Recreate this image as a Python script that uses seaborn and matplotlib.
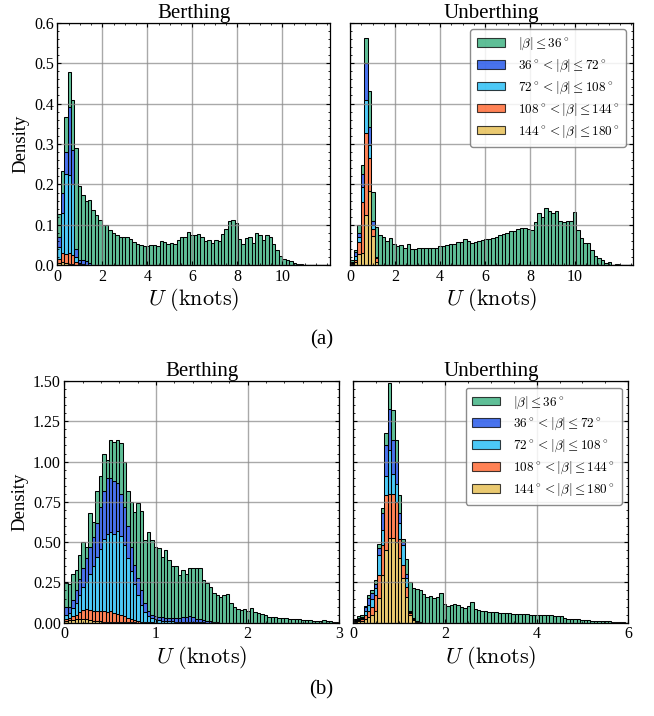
import numpy as np
import pandas as pd
import matplotlib
matplotlib.use("Agg")
import matplotlib.pyplot as plt
import seaborn as sns
from matplotlib.patches import Patch
from matplotlib.ticker import AutoMinorLocator

plt.rcParams.update({
    "font.family": "serif",
    "font.serif": ["Liberation Serif", "DejaVu Serif"],
    "mathtext.fontset": "cm",
    "xtick.direction": "in", "ytick.direction": "in",
    "xtick.top": True, "ytick.right": True,
    "xtick.major.size": 3.0, "ytick.major.size": 3.0,
    "xtick.minor.size": 1.5, "ytick.minor.size": 1.5,
    "xtick.minor.visible": True, "ytick.minor.visible": True,
    "axes.linewidth": 0.9,
})

N_BINS = 80
beta_labels = [r"$|\beta| \leq 36^\circ$",
               r"$36^\circ < |\beta| \leq 72^\circ$",
               r"$72^\circ < |\beta| \leq 108^\circ$",
               r"$108^\circ < |\beta| \leq 144^\circ$",
               r"$144^\circ < |\beta| \leq 180^\circ$"]
beta_colors = ["#2AAA75", "#0C44E8", "#10B8F5", "#FF581C", "#E4B740"]

# ---- (a) Berthing : densities per bin (80 bins over 0..u_max) ----
a_berth_umax = 12.12
a_berth_g = [0.058, 0.054, 0.087, 0.087, 0.125, 0.250, 0.184, 0.162, 0.147, 0.155,
             0.138, 0.124, 0.112, 0.100, 0.099, 0.087, 0.079, 0.075, 0.069, 0.069,
             0.071, 0.066, 0.057, 0.053, 0.050, 0.047, 0.048, 0.050, 0.049, 0.048,
             0.061, 0.058, 0.053, 0.055, 0.052, 0.063, 0.070, 0.070, 0.083, 0.076,
             0.076, 0.078, 0.069, 0.060, 0.062, 0.055, 0.063, 0.061, 0.078, 0.089,
             0.110, 0.111, 0.104, 0.065, 0.052, 0.067, 0.069, 0.055, 0.080, 0.075,
             0.063, 0.076, 0.070, 0.053, 0.039, 0.024, 0.016, 0.013, 0.010, 0.006,
             0.003, 0.002, 0.001]
a_berth_b = [0.025, 0.050, 0.055, 0.169, 0.085, 0.020, 0.007, 0.009, 0.011, 0.006]
a_berth_c = [0.029, 0.100, 0.196, 0.193, 0.175, 0.011, 0.004, 0.003]
a_berth_o = [0.010, 0.022, 0.024, 0.026, 0.022, 0.008, 0.002]
a_berth_y = [0.006, 0.008, 0.005, 0.004, 0.003, 0.001]

# ---- (a) Unberthing ----
a_unberth_umax = 12.56
a_unberth_g = [0.003, 0.007, 0.020, 0.021, 0.062, 0.087, 0.072, 0.075, 0.076, 0.071,
               0.060, 0.067, 0.052, 0.047, 0.051, 0.043, 0.053, 0.041, 0.041, 0.042,
               0.042, 0.043, 0.043, 0.044, 0.044, 0.047, 0.048, 0.051, 0.052, 0.053,
               0.057, 0.058, 0.065, 0.059, 0.056, 0.057, 0.061, 0.063, 0.065, 0.066,
               0.068, 0.071, 0.074, 0.077, 0.081, 0.085, 0.085, 0.091, 0.092, 0.092,
               0.091, 0.088, 0.107, 0.130, 0.120, 0.142, 0.134, 0.130, 0.135, 0.110,
               0.106, 0.109, 0.110, 0.133, 0.088, 0.067, 0.055, 0.055, 0.039, 0.024,
               0.018, 0.012, 0.006, 0.007, 0.000, 0.002]
a_unberth_b = [0.003, 0.008, 0.008, 0.033, 0.090, 0.045, 0.010, 0.001]
a_unberth_c = [0.002, 0.011, 0.013, 0.037, 0.083, 0.033, 0.010, 0.002]
a_unberth_o = [0.002, 0.006, 0.031, 0.127, 0.202, 0.081, 0.017, 0.009]
a_unberth_y = [0.002, 0.007, 0.027, 0.030, 0.125, 0.184, 0.073, 0.008]

# ---- (b) Berthing ----
b_berth_umax = 3.0
b_berth_g = [0.148, 0.143, 0.160, 0.130, 0.150, 0.163, 0.072, 0.210, 0.097, 0.197,
             0.190, 0.225, 0.110, 0.234, 0.244, 0.264, 0.317, 0.280, 0.217, 0.281,
             0.325, 0.461, 0.493, 0.393, 0.495, 0.463, 0.432, 0.426, 0.375, 0.421,
             0.359, 0.322, 0.322, 0.266, 0.292, 0.264, 0.297, 0.302, 0.312, 0.317,
             0.250, 0.234, 0.211, 0.177, 0.169, 0.161, 0.172, 0.176, 0.124, 0.095,
             0.085, 0.079, 0.083, 0.074, 0.089, 0.064, 0.062, 0.054, 0.046, 0.037,
             0.033, 0.033, 0.031, 0.029, 0.027, 0.023, 0.023, 0.021, 0.021, 0.017,
             0.017, 0.014, 0.012, 0.012, 0.010, 0.017, 0.008, 0.008, 0.006, 0.004]
b_berth_b = [0.050, 0.035, 0.050, 0.080, 0.100, 0.120, 0.150, 0.170, 0.180, 0.210,
             0.260, 0.300, 0.350, 0.340, 0.330, 0.300, 0.260, 0.240, 0.200, 0.150,
             0.120, 0.110, 0.090, 0.055, 0.030, 0.020, 0.020, 0.020, 0.023, 0.020,
             0.022, 0.022, 0.023, 0.024, 0.029, 0.032, 0.035, 0.030, 0.021, 0.017,
             0.013, 0.010, 0.008, 0.005, 0.003]
b_berth_c = [0.025, 0.030, 0.050, 0.070, 0.105, 0.140, 0.165, 0.220, 0.275, 0.335,
             0.390, 0.445, 0.485, 0.490, 0.490, 0.515, 0.490, 0.440, 0.370, 0.298,
             0.225, 0.160, 0.104, 0.061, 0.037, 0.028, 0.019, 0.015, 0.012, 0.010,
             0.008, 0.008, 0.007, 0.006, 0.006, 0.006, 0.005, 0.005, 0.004, 0.003,
             0.002]
b_berth_o = [0.013, 0.015, 0.022, 0.030, 0.043, 0.055, 0.065, 0.065, 0.065, 0.067,
             0.062, 0.069, 0.059, 0.065, 0.055, 0.051, 0.046, 0.037, 0.027, 0.020,
             0.013, 0.009, 0.005, 0.004, 0.003, 0.002, 0.001]
b_berth_y = [0.012, 0.015, 0.018, 0.020, 0.022, 0.025, 0.020, 0.015, 0.010, 0.008,
             0.008, 0.006, 0.006, 0.005, 0.005, 0.004, 0.004, 0.003, 0.003, 0.002,
             0.002, 0.001, 0.001]

# ---- (b) Unberthing ----
b_unberth_umax = 6.0
b_unberth_g = [0.007, 0.010, 0.007, 0.010, 0.021, 0.016, 0.023, 0.027, 0.032, 0.072,
               0.160, 0.186, 0.132, 0.110, 0.021, 0.095, 0.180, 0.185, 0.200, 0.200,
               0.178, 0.160, 0.165, 0.155, 0.160, 0.186, 0.116, 0.103, 0.110, 0.116,
               0.110, 0.095, 0.089, 0.106, 0.128, 0.083, 0.079, 0.074, 0.070, 0.068,
               0.066, 0.066, 0.063, 0.062, 0.059, 0.058, 0.055, 0.054, 0.054, 0.052,
               0.052, 0.050, 0.050, 0.049, 0.048, 0.048, 0.047, 0.045, 0.043, 0.042,
               0.039, 0.031, 0.026, 0.024, 0.021, 0.020, 0.017, 0.016, 0.014, 0.013,
               0.012, 0.011, 0.010, 0.009, 0.008, 0.007, 0.005, 0.004, 0.002, 0.001]
b_unberth_b = [0.006, 0.008, 0.008, 0.020, 0.041, 0.035, 0.025, 0.045, 0.103, 0.197,
               0.258, 0.216, 0.140, 0.060, 0.020, 0.020, 0.005, 0.002, 0.002, 0.001]
b_unberth_c = [0.004, 0.007, 0.010, 0.030, 0.042, 0.054, 0.041, 0.120, 0.093, 0.113,
               0.270, 0.120, 0.110, 0.100, 0.120, 0.060, 0.005, 0.003, 0.002, 0.001]
b_unberth_o = [0.004, 0.007, 0.010, 0.020, 0.037, 0.045, 0.104, 0.145, 0.186, 0.345,
               0.275, 0.275, 0.250, 0.120, 0.080, 0.060, 0.015, 0.010, 0.002, 0.001]
b_unberth_y = [0.004, 0.008, 0.010, 0.025, 0.033, 0.050, 0.070, 0.153, 0.298, 0.450,
               0.525, 0.525, 0.500, 0.400, 0.280, 0.160, 0.045, 0.015, 0.004, 0.002]


def pad(v):
    v = np.asarray(v, dtype=float)
    return np.pad(v, (0, N_BINS - len(v)))


W, H = 654, 716
fig = plt.figure(figsize=(W / 100, H / 100), dpi=100)


def px_axes(x0, x1, y0, y1):
    return fig.add_axes([x0 / W, 1 - y1 / H, (x1 - x0) / W, (y1 - y0) / H])


ax_a1 = px_axes(57.3, 330.0, 22.7, 265.3)
ax_a2 = px_axes(350.0, 632.7, 22.7, 265.3)
ax_b1 = px_axes(64.3, 339.3, 381.0, 622.7)
ax_b2 = px_axes(353.3, 628.3, 381.0, 622.7)

panels = [
    (ax_a1, a_berth_umax, [a_berth_g, a_berth_b, a_berth_c, a_berth_o, a_berth_y], "Berthing"),
    (ax_a2, a_unberth_umax, [a_unberth_g, a_unberth_b, a_unberth_c, a_unberth_o, a_unberth_y], "Unberthing"),
    (ax_b1, b_berth_umax, [b_berth_g, b_berth_b, b_berth_c, b_berth_o, b_berth_y], "Berthing"),
    (ax_b2, b_unberth_umax, [b_unberth_g, b_unberth_b, b_unberth_c, b_unberth_o, b_unberth_y], "Unberthing"),
]

palette = dict(zip(beta_labels, beta_colors))

for ax, umax, comps, title in panels:
    width = umax / N_BINS
    centers = width * (np.arange(N_BINS) + 0.5)
    df = pd.concat([pd.DataFrame({"U": centers, "density": pad(v), "beta": lab})
                    for v, lab in zip(comps, beta_labels)], ignore_index=True)
    sns.histplot(data=df, x="U", weights="density", hue="beta", hue_order=beta_labels,
                 palette=palette, bins=N_BINS, binrange=(0, umax), multiple="stack",
                 stat="count", edgecolor="black", linewidth=0.75, alpha=0.75,
                 ax=ax, legend=False)
    ax.set_xlim(0, umax)
    ax.set_title(title, fontsize=15, pad=2)
    ax.set_xlabel(r"$U\ \mathrm{(knots)}$", fontsize=16, labelpad=1)
    ax.grid(True, which="major", color="#8c8c8c", linewidth=1.0, alpha=0.75)
    ax.xaxis.set_minor_locator(AutoMinorLocator())
    ax.yaxis.set_minor_locator(AutoMinorLocator())
    ax.tick_params(labelsize=11.5, pad=2.5)

for ax in (ax_a1, ax_a2):
    ax.set_ylim(0, 0.6)
    ax.set_yticks(np.arange(0, 0.61, 0.1))
    ax.set_xticks(np.arange(0, 11, 2))
ax_a1.set_yticklabels([f"{v:.1f}" for v in np.arange(0, 0.61, 0.1)])
for ax in (ax_b1, ax_b2):
    ax.set_ylim(0, 1.5)
    ax.set_yticks(np.arange(0, 1.51, 0.25))
ax_b1.set_yticklabels([f"{v:.2f}" for v in np.arange(0, 1.51, 0.25)])
ax_b1.set_xticks([0, 1, 2, 3])
ax_b2.set_xticks([0, 2, 4, 6])

for ax in (ax_a1, ax_b1):
    ax.set_ylabel("Density", fontsize=13.5, labelpad=3)
for ax in (ax_a2, ax_b2):
    ax.set_ylabel("")
    ax.tick_params(labelleft=False)

handles = [Patch(facecolor=c, edgecolor="black", linewidth=0.8, alpha=0.75) for c in beta_colors]
for ax in (ax_a2, ax_b2):
    ax.legend(handles, beta_labels, loc="upper right", fontsize=9.5, frameon=True,
              fancybox=True, edgecolor="#777777", framealpha=0.85,
              handlelength=2.1, handleheight=0.6, labelspacing=0.42,
              borderaxespad=0.5, handletextpad=1.0, borderpad=0.5)

fig.text(322 / W, 1 - 340 / H, "(a)", ha="center", va="center", fontsize=15)
fig.text(321 / W, 1 - 690 / H, "(b)", ha="center", va="center", fontsize=15)

fig.savefig("out.png", dpi=100)
